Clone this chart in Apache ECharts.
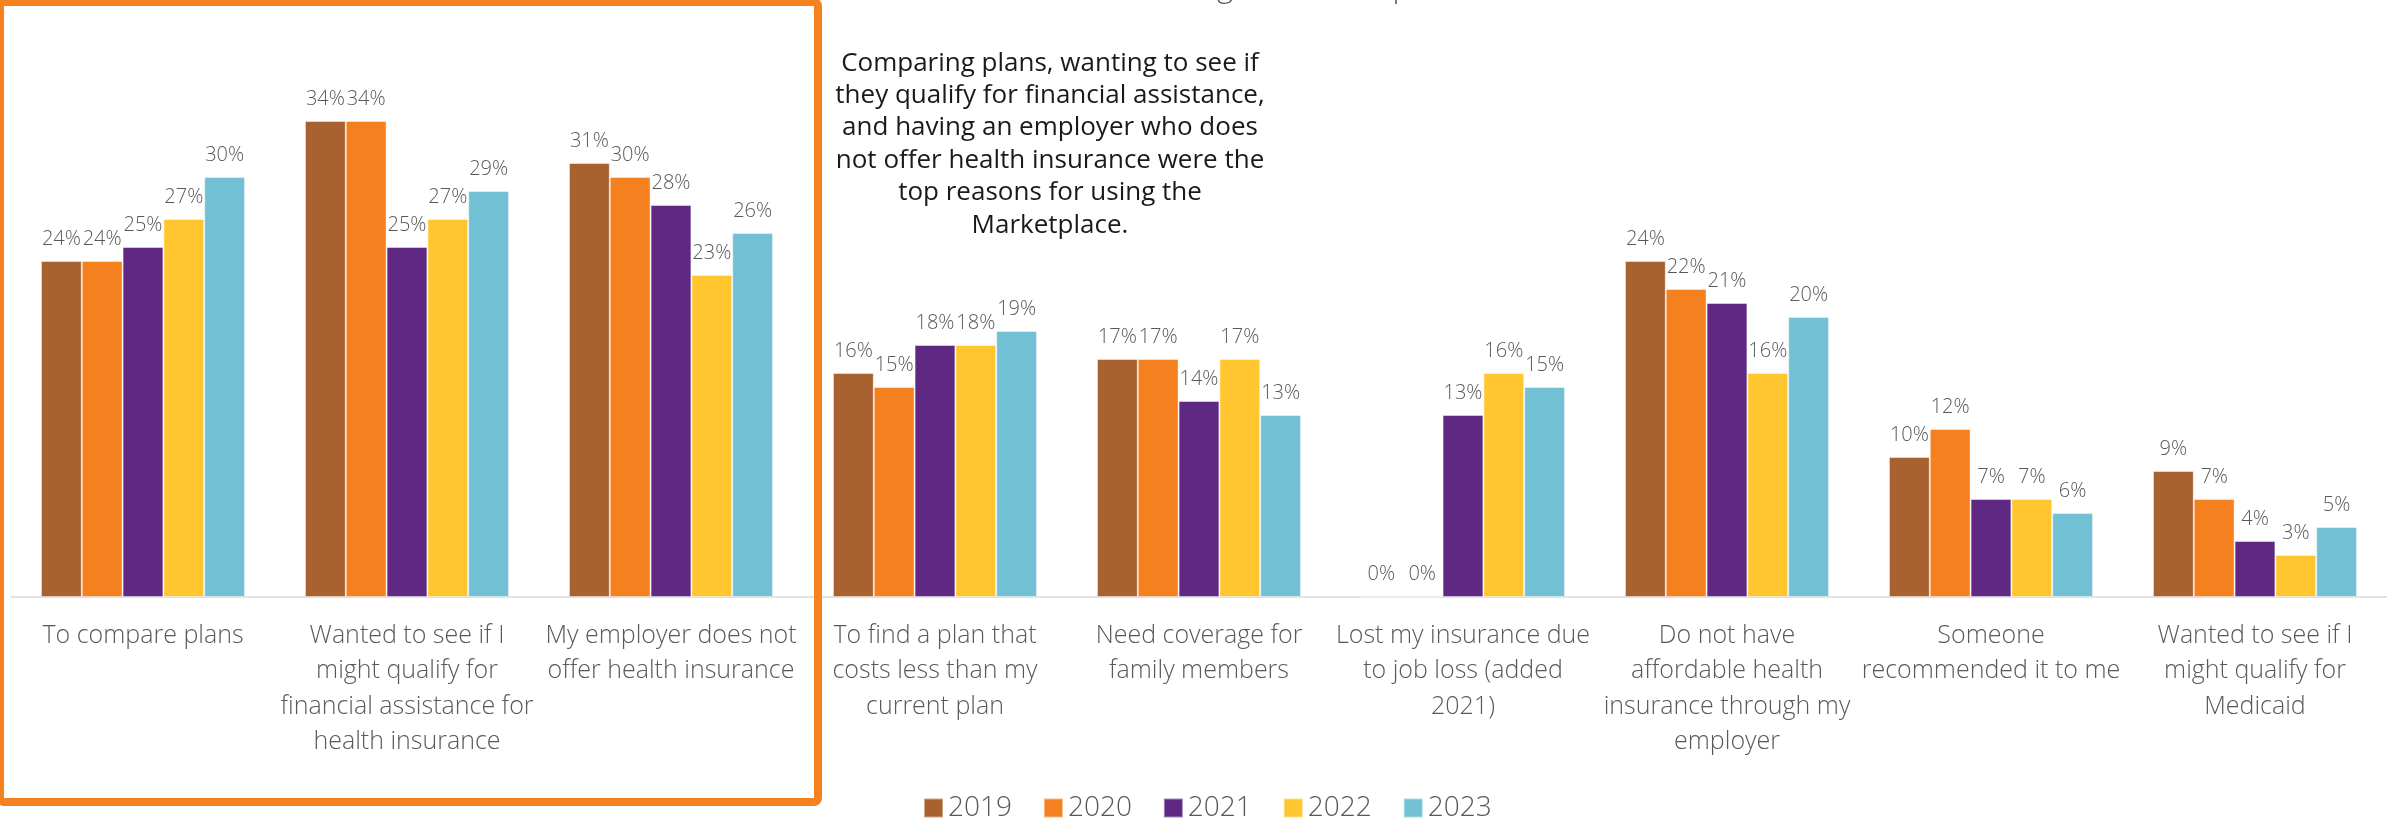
<!DOCTYPE html>
<html>
<head>
<meta charset="utf-8">
<title>Reasons for Using the Marketplace</title>
<script src="https://cdn.jsdelivr.net/npm/echarts@6/dist/echarts.min.js"></script>
<style>
  html, body { margin: 0; padding: 0; background: #ffffff; }
  #chart { width: 2387px; height: 821px; }
</style>
</head>
<body>
<div id="chart"></div>
<script>
// Survey reasons (category labels, wrapped as printed under the axis)
const categories = [
  'To compare plans',
  'Wanted to see if I\nmight qualify for\nfinancial assistance for\nhealth insurance',
  'My employer does not\noffer health insurance',
  'To find a plan that\ncosts less than my\ncurrent plan',
  'Need coverage for\nfamily members',
  'Lost my insurance due\nto job loss (added\n2021)',
  'Do not have\naffordable health\ninsurance through my\nemployer',
  'Someone\nrecommended it to me',
  'Wanted to see if I\nmight qualify for\nMedicaid'
];

const years = ['2019', '2020', '2021', '2022', '2023'];

// Share of respondents (%) per reason, one array per survey year
const values2019 = [24, 34, 31, 16, 17, 0, 24, 10, 9];
const values2020 = [24, 34, 30, 15, 17, 0, 22, 12, 7];
const values2021 = [25, 25, 28, 18, 14, 13, 21, 7, 4];
const values2022 = [27, 27, 23, 18, 17, 16, 16, 7, 3];
const values2023 = [30, 29, 26, 19, 13, 15, 20, 6, 5];

const yearColors = ['#A8612F', '#F5801F', '#5E2883', '#FFC630', '#72C0D4'];

const calloutLines = [
  'Comparing plans, wanting to see if',
  'they qualify for financial assistance,',
  'and having an employer who does',
  'not offer health insurance were the',
  'top reasons for using the',
  'Marketplace.'
];

const chartTitle = 'Reasons for Using the Marketplace';

const FONT = '"Open Sans", "Noto Sans", sans-serif';
const seriesValues = [values2019, values2020, values2021, values2022, values2023];

const chart = echarts.init(document.getElementById('chart'), null, { renderer: 'canvas' });

chart.setOption({
  animation: false,
  backgroundColor: '#ffffff',
  color: yearColors,
  grid: { left: 11, right: 0, top: 37, bottom: 224, containLabel: false },
  legend: {
    data: years,
    left: 918,
    top: 789,
    icon: 'rect',
    itemWidth: 19,
    itemHeight: 19,
    itemGap: 31,
    textStyle: { fontFamily: FONT, fontWeight: 300, fontSize: 28, color: '#595959' }
  },
  xAxis: {
    type: 'category',
    data: categories,
    axisTick: { show: false },
    axisLine: { lineStyle: { color: '#d9d9d9', width: 1.5 } },
    axisLabel: {
      interval: 0,
      margin: 21,
      fontFamily: FONT,
      fontWeight: 300,
      fontSize: 25,
      lineHeight: 35.5,
      color: '#595959',
      align: 'center'
    }
  },
  yAxis: {
    type: 'value',
    min: 0,
    max: 40,
    show: false,
    splitLine: { show: false }
  },
  series: years.map((y, i) => ({
    name: y,
    type: 'bar',
    data: seriesValues[i],
    barGap: '0%',
    barCategoryGap: '22.7%',
    itemStyle: { color: yearColors[i], borderColor: 'rgba(255,255,255,0.45)', borderWidth: 1 },
    label: {
      show: true,
      position: 'top',
      distance: 12,
      formatter: '{c}%',
      fontFamily: FONT,
      fontWeight: 300,
      fontSize: 20,
      color: '#595959'
    }
  })),
  graphic: [
    {
      type: 'text',
      z: 50,
      x: 982,
      y: -12,
      style: {
        text: chartTitle,
        font: '300 31px ' + FONT,
        fill: '#595959',
        align: 'left',
        verticalAlign: 'middle'
      }
    },
    {
      type: 'text',
      z: 50,
      x: 1050,
      y: 47,
      style: {
        text: calloutLines.join('\n'),
        font: '26px ' + FONT,
        lineHeight: 32.4,
        fill: '#1a1a1a',
        align: 'center',
        verticalAlign: 'top'
      }
    },
    {
      type: 'rect',
      z: 100,
      shape: { x: 0, y: 2, width: 818, height: 800, r: 4 },
      style: { fill: 'transparent', stroke: '#F5821F', lineWidth: 8 }
    }
  ]
});
</script>
</body>
</html>
